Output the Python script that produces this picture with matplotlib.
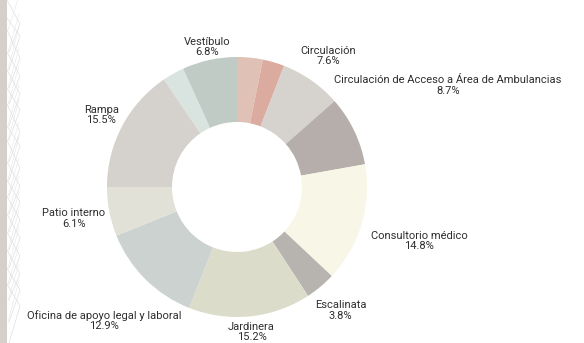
import numpy as np
import matplotlib.pyplot as plt
from matplotlib.patches import Rectangle

# Distribución de superficies (%)
areas = ['', '', 'Circulación', 'Circulación de Acceso a Área de Ambulancias',
         'Consultorio médico', 'Escalinata', 'Jardinera',
         'Oficina de apoyo legal y laboral', 'Patio interno', 'Rampa', '', 'Vestíbulo']
porcentajes = [3.2, 2.7, 7.6, 8.7, 14.8, 3.8, 15.2, 12.9, 6.1, 15.5, 2.7, 6.8]
colores = ['#dfc1b5', '#dcab9f', '#d6d2cd', '#b6aeab', '#f8f6e6', '#b7b3af',
           '#dcdccb', '#cbd2d0', '#e1e1d8', '#d5d1cc', '#d9e3df', '#c0cbc5']

# distancia de cada etiqueta al centro (en radios)
dist_etiqueta = [1.2, 1.2, 1.23, 1.8, 1.46, 1.24, 1.12, 1.45, 1.28, 1.18, 1.2, 1.1]

plt.rcParams['font.family'] = ['Roboto', 'DejaVu Sans']

fig = plt.figure(figsize=(5.84, 3.43), dpi=100)
ax = fig.add_axes([0, 0, 1, 1])

cx, cy, R = 237, 156, 130

# Franja decorativa a la izquierda
ax.add_patch(Rectangle((0, 0), 7, 343, color='#d4cfca', lw=0))
ys = [0, 18, 30, 52, 70, 88, 104, 126, 140, 162, 180, 196, 214, 232, 250, 268, 284, 300, 322, 343]
for i in range(len(ys) - 3):
    ax.plot([7, 20, 9], [343 - ys[i], 343 - ys[i + 1] - 6, 343 - ys[i + 3]],
            color='#e0e0e0', lw=0.5)
    ax.plot([8, 19], [343 - ys[i + 2], 343 - ys[i] + 4], color='#e6e6e6', lw=0.4)

ax.pie(porcentajes, colors=colores, radius=R, center=(cx, cy), startangle=90,
       counterclock=False, wedgeprops=dict(width=R / 2, linewidth=0),
       frame=True)
ax.set_xlim(0, 584)
ax.set_ylim(0, 343)
ax.set_aspect('equal')
ax.axis('off')

# Etiquetas con nombre y porcentaje
total = sum(porcentajes)
acum = 0
for nombre, p, d in zip(areas, porcentajes, dist_etiqueta):
    medio = (acum + p / 2) / total * 2 * np.pi
    acum += p
    if not nombre:
        continue
    x = cx + d * R * np.sin(medio)
    y = cy + d * R * np.cos(medio)
    ax.text(x, y, f'{nombre}\n{p:.1f}%', ha='center', va='center',
            fontsize=8.0, color='#2e2e2e', linespacing=1.05)

fig.savefig('out.png', dpi=100)
